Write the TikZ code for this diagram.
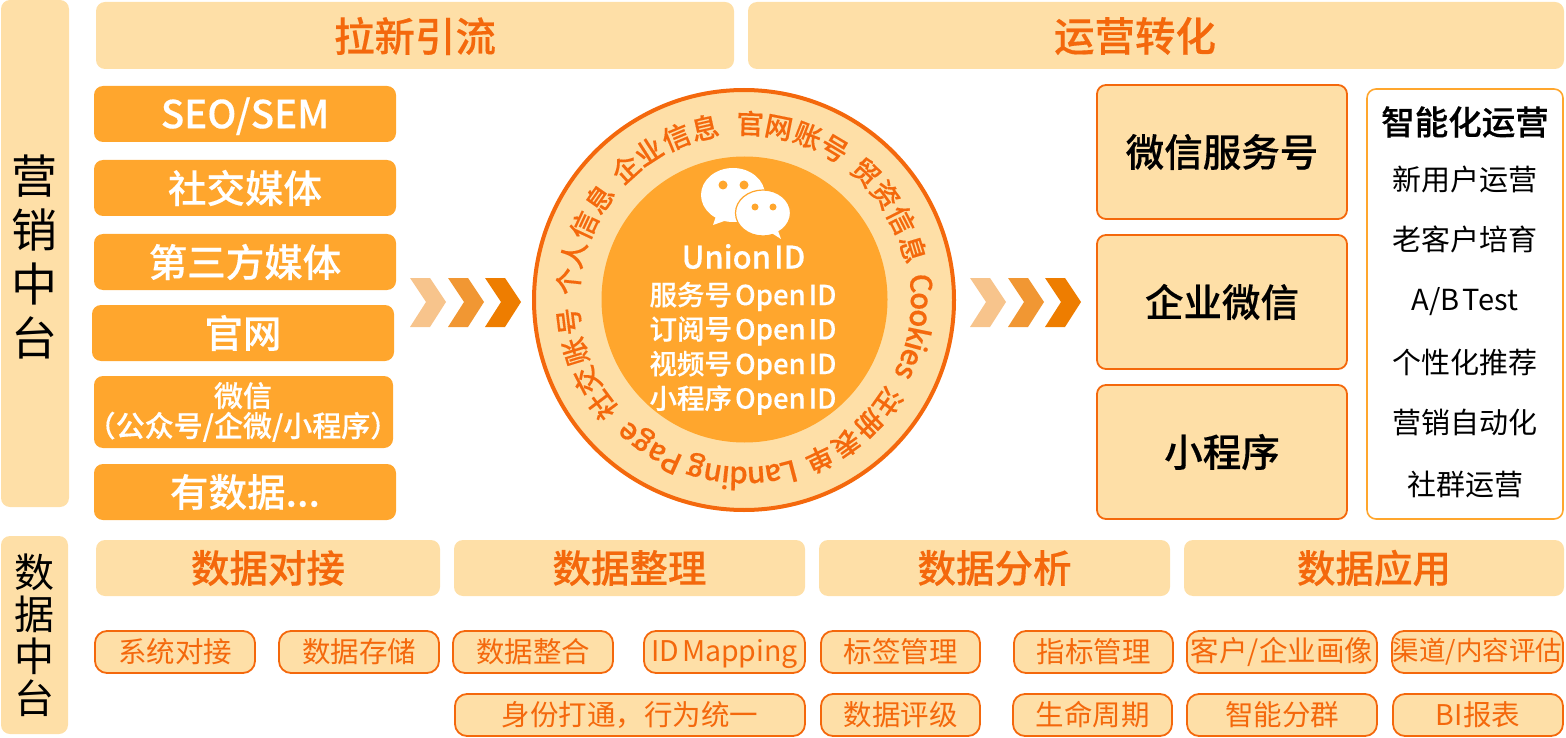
\documentclass[tikz,border=0pt]{standalone}
\usepackage{fontspec}
\setmainfont{Noto Sans CJK SC}[BoldFont={Noto Sans CJK SC Medium},BoldFeatures={FakeBold=0.35}]
\usepackage{tikz}
\definecolor{lightband}{HTML}{FEDFA7}
\definecolor{midband}{HTML}{FFA62D}
\definecolor{strongline}{HTML}{F4680C}
\definecolor{chevron}{HTML}{EE7D00}
\newcommand{\fsize}[2]{\fontsize{#1}{#2}\selectfont}
\newcommand{\tightword}{\spaceskip 3pt\relax}
\tikzset{
  band/.style={fill=lightband,rounded corners=9pt,inner sep=0pt},
  sidebar/.style={inner sep=0pt,align=center,text=black,font=\fsize{46}{54}},
  datasidebar/.style={inner sep=0pt,align=center,text=black,font=\fsize{40}{42}},
  heading/.style={inner sep=0pt,text=strongline,font=\fsize{40.5}{46}\bfseries},
  subheading/.style={band,text=strongline,font=\fsize{38.5}{44}\bfseries},
  channel/.style={fill=midband,rounded corners=9pt,inner sep=0pt,text=white,font=\fsize{38.5}{44}\bfseries},
  touch/.style={band,draw=strongline,line width=1.8pt,text=black,font=\fsize{38.5}{44}\bfseries},
  pill/.style={fill=lightband,draw=strongline,line width=1.8pt,rounded corners=12pt,inner sep=0pt,text=strongline,font=\fsize{28.5}{34}\tightword},
  opsitem/.style={inner sep=0pt,text=black,font=\fsize{29}{34}\tightword},
  ringchar/.style={anchor=base,inner sep=0pt,text=strongline,font=\fsize{27.5}{30}\bfseries},
  ringlatin/.style={ringchar,font=\fsize{29.5}{32}\bfseries},
  idline/.style={inner sep=0pt,text=white,font=\fsize{27.5}{32}\bfseries\tightword},
}
\begin{document}
\begin{tikzpicture}[x=1pt,y=-1pt]
        \useasboundingbox (0,0) rectangle (1566,738);
        \node[band,minimum width=68pt,minimum height=507pt] (marketing) at (35,253.5) {};
        \node[band,minimum width=67pt,minimum height=198pt] (datahub) at (34.5,635) {};
        \node[sidebar] (marketing label) at (35,257) {营\\销\\中\\台};
        \node[datasidebar] (datahub label) at (34.5,635) {数\\据\\中\\台};

        \node[band,minimum width=638pt,minimum height=67pt] (acquire) at (415,35.5) {};
        \node[band,minimum width=816pt,minimum height=67pt] (convert) at (1156,35.5) {};
        \node[heading] (acquire label) at (415,36) {拉新引流};
        \node[heading] (convert label) at (1135,36) {运营转化};

        \node[channel,minimum width=302pt,minimum height=56pt,text height=34pt,text depth=5.6pt] (seo) at (245,114) {SEO/SEM};
        \node[channel,minimum width=302pt,minimum height=56pt] (social) at (245,188) {社交媒体};
        \node[channel,minimum width=302pt,minimum height=56pt] (third) at (245,262) {第三方媒体};
        \node[channel,minimum width=302pt,minimum height=56pt] (site) at (243,333) {官网};
        \node[channel,minimum width=299pt,minimum height=72pt] (wechat) at (243.5,412) {};
        \node[channel,fill=none,align=center,font=\fsize{29}{30}\bfseries] (wechat label) at (243,412) {微信\\（公众号/企微/小程序）};
        \node[channel,minimum width=302pt,minimum height=56pt] (youshu) at (245,492) {有数据...};

        \foreach \ox in {0,560} {
          \foreach \dx/\shade in {0/45,38/80,75/100} {
            \fill[chevron,opacity=0.01*\shade] (410+\ox+\dx,278) -- (430+\ox+\dx,278) -- (446+\ox+\dx,302) -- (430+\ox+\dx,327) -- (410+\ox+\dx,327) -- (426+\ox+\dx,302) -- cycle;
          }
        }

        \node[circle,fill=lightband,draw=strongline,line width=4pt,minimum size=420pt,inner sep=0pt] (ring) at (744,300) {};
        \node[circle,fill=midband,minimum size=286pt,inner sep=0pt] (core) at (744.5,299.5) {};

        \foreach \ch/\ang [count=\n] in {社/216.7,交/207.2,账/197,号/187,个/174,人/165,信/155,息/145,企/132,业/122.7,信/112.6,息/102.8,官/88,网/78.6,账/68.8,号/59.2,贸/46.3,资/36.6,信/26.9,息/16.8,注/-35.2,册/-44.8,表/-54.6,单/-64.6} {
          \node[ringchar,rotate=\ang-90] (ch\n) at ([shift={(744,300)}]\ang:166pt) {\ch};
        }
        \foreach \ch/\ang [count=\n] in {C/5.4,o/-0.4,o/-6,k/-11.5,i/-15.3,e/-19,s/-24,L/-75.3,a/-80.4,n/-86,d/-91.8,i/-96,n/-100.3,g/-106.1,P/-114.2,a/-119.8,g/-125.5,e/-131.2} {
          \node[ringlatin,rotate=\ang-90] (lat\n) at ([shift={(744,300)}]\ang:167pt) {\ch};
        }

        \fill[white] (733,195) ellipse [x radius=32,y radius=27];
        \fill[white] (716,216) -- (713,225) -- (730,219) -- cycle;
        \filldraw[fill=white,draw=midband,line width=1.2pt] (763,213) ellipse [x radius=27.5,y radius=23];
        \fill[white] (770,232) -- (781,239) -- (777,228) -- cycle;
        \fill[midband] (723,185) circle (4.5) (744,185) circle (4.5) (755,207) circle (3.5) (773,207) circle (3.5);

        \node[idline,font=\fsize{31}{36}\bfseries\tightword] (union) at (743.5,256.5) {Union ID};
        \node[idline] (service) at (743,296.5) {服务号 Open ID};
        \node[idline] (subscribe) at (743,331) {订阅号 Open ID};
        \node[idline] (video) at (743,365.5) {视频号 Open ID};
        \node[idline] (mini) at (743,400) {小程序 Open ID};

        \node[touch,minimum width=250pt,minimum height=134pt] (service box) at (1222,152) {微信服务号};
        \node[touch,minimum width=250pt,minimum height=134pt] (work box) at (1222,302) {企业微信};
        \node[touch,minimum width=250pt,minimum height=134pt] (mini box) at (1222,452) {小程序};

        \node[draw=midband,fill=white,line width=1.6pt,rounded corners=9pt,minimum width=196pt,minimum height=430pt,inner sep=0pt] (ops) at (1465,304) {};
        \node[opsitem,font=\fsize{33.5}{38}\bfseries] (ops title) at (1465,122) {智能化运营};
        \node[opsitem] (ops a) at (1465,179) {新用户运营};
        \node[opsitem] (ops b) at (1465,239) {老客户培育};
        \node[opsitem] (ops c) at (1465,302) {A/B Test};
        \node[opsitem] (ops d) at (1465,362) {个性化推荐};
        \node[opsitem] (ops e) at (1465,422) {营销自动化};
        \node[opsitem] (ops f) at (1465,484) {社群运营};

        \node[subheading,minimum width=344pt,minimum height=56pt] (dock) at (268,568) {数据对接};
        \node[subheading,minimum width=351pt,minimum height=56pt] (tidy) at (629.5,568) {数据整理};
        \node[subheading,minimum width=351pt,minimum height=56pt] (analyse) at (994.5,568) {数据分析};
        \node[subheading,minimum width=380pt,minimum height=56pt] (apply) at (1374,568) {数据应用};

        \node[pill,minimum width=160pt,minimum height=42pt] (sys) at (175,652) {系统对接};
        \node[pill,minimum width=160pt,minimum height=42pt] (store) at (359,652) {数据存储};
        \node[pill,minimum width=160pt,minimum height=42pt] (merge) at (533,652) {数据整合};
        \node[pill,minimum width=161pt,minimum height=42pt,text height=26pt,text depth=6.6pt] (idmap) at (724.5,652) {ID Mapping};
        \node[pill,minimum width=159pt,minimum height=42pt] (tags) at (900.5,652) {标签管理};
        \node[pill,minimum width=159pt,minimum height=42pt] (metric) at (1093.5,652) {指标管理};
        \node[pill,minimum width=190pt,minimum height=42pt] (portrait) at (1282,652) {客户/企业画像};
        \node[pill,minimum width=171pt,minimum height=42pt,font=\fsize{26.5}{30}] (assess) at (1477.5,652) {渠道/内容评估};

        \node[pill,minimum width=350pt,minimum height=42pt] (identity) at (630,715) {身份打通，行为统一};
        \node[pill,minimum width=159pt,minimum height=42pt] (grade) at (900.5,715) {数据评级};
        \node[pill,minimum width=159pt,minimum height=42pt] (cycle) at (1092.5,715) {生命周期};
        \node[pill,minimum width=190pt,minimum height=42pt] (group) at (1282,715) {智能分群};
        \node[pill,minimum width=170pt,minimum height=42pt] (report) at (1478,715) {BI报表};
\end{tikzpicture}
\end{document}
